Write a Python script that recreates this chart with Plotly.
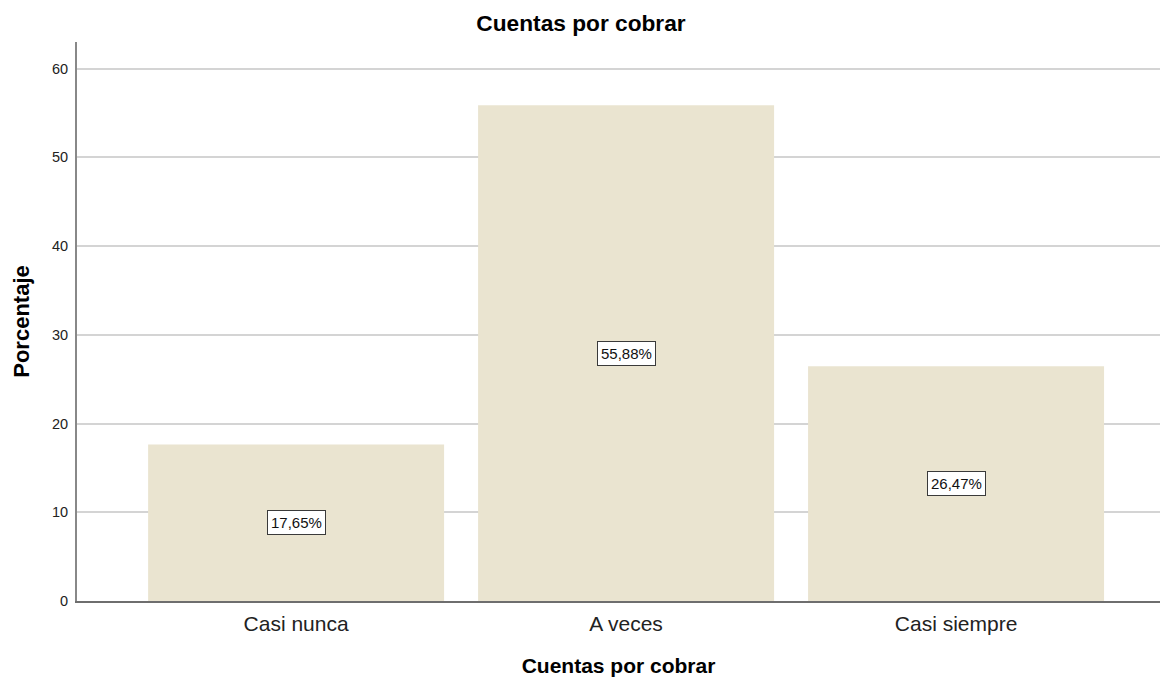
import plotly.graph_objects as go

categorias = ["Casi nunca", "A veces", "Casi siempre"]
porcentajes = [17.65, 55.88, 26.47]
etiquetas = ["17,65%", "55,88%", "26,47%"]
y_ticks = [0, 10, 20, 30, 40, 50, 60]

FUENTE = "Arial, Liberation Sans, sans-serif"

fig = go.Figure()

fig.add_trace(
    go.Bar(
        x=categorias,
        y=porcentajes,
        width=0.897,
        marker_color="#EAE4D0",
        marker_line_width=0,
        hoverinfo="skip",
    )
)

# etiquetas en recuadro a media altura de cada barra
for cat, val, txt in zip(categorias, porcentajes, etiquetas):
    fig.add_annotation(
        x=cat,
        y=val / 2,
        text=txt,
        showarrow=False,
        font=dict(family=FUENTE, size=15, color="#111111"),
        bgcolor="#FFFFFF",
        bordercolor="#3A3A3A",
        borderwidth=1,
        borderpad=3,
    )

fig.update_xaxes(
    range=[-0.664, 2.618],
    showline=True,
    linecolor="#6E6E6E",
    linewidth=2,
    ticks="",
    ticklabelstandoff=3,
    tickfont=dict(family=FUENTE, size=21, color="#222222"),
    title_text="<b>Cuentas por cobrar</b>",
    title_font=dict(family=FUENTE, size=21, color="#000000"),
    title_standoff=24,
    showgrid=False,
)
fig.update_yaxes(
    range=[0, 63],
    tickvals=y_ticks,
    showline=True,
    linecolor="#888888",
    linewidth=2,
    ticks="",
    ticklabelstandoff=4,
    tickfont=dict(family=FUENTE, size=14.5, color="#222222"),
    showgrid=True,
    gridcolor="#D4D4D4",
    gridwidth=2,
    zeroline=False,
    title_text="<b>Porcentaje</b>",
    title_font=dict(family=FUENTE, size=22, color="#000000"),
    title_standoff=16,
)

fig.update_layout(
    width=1162,
    height=680,
    showlegend=False,
    plot_bgcolor="#FFFFFF",
    paper_bgcolor="#FFFFFF",
    title_text="<b>Cuentas por cobrar</b>",
    title_x=0.5,
    title_xanchor="center",
    title_y=1 - 23.5 / 680,
    title_yanchor="middle",
    title_font=dict(family=FUENTE, size=22.7, color="#000000"),
    margin=dict(l=77, r=2, t=42, b=79),
)

fig.write_html(
    "out.html",
    config={"displayModeBar": False},
    post_script="document.body.style.margin='0px';",
)
